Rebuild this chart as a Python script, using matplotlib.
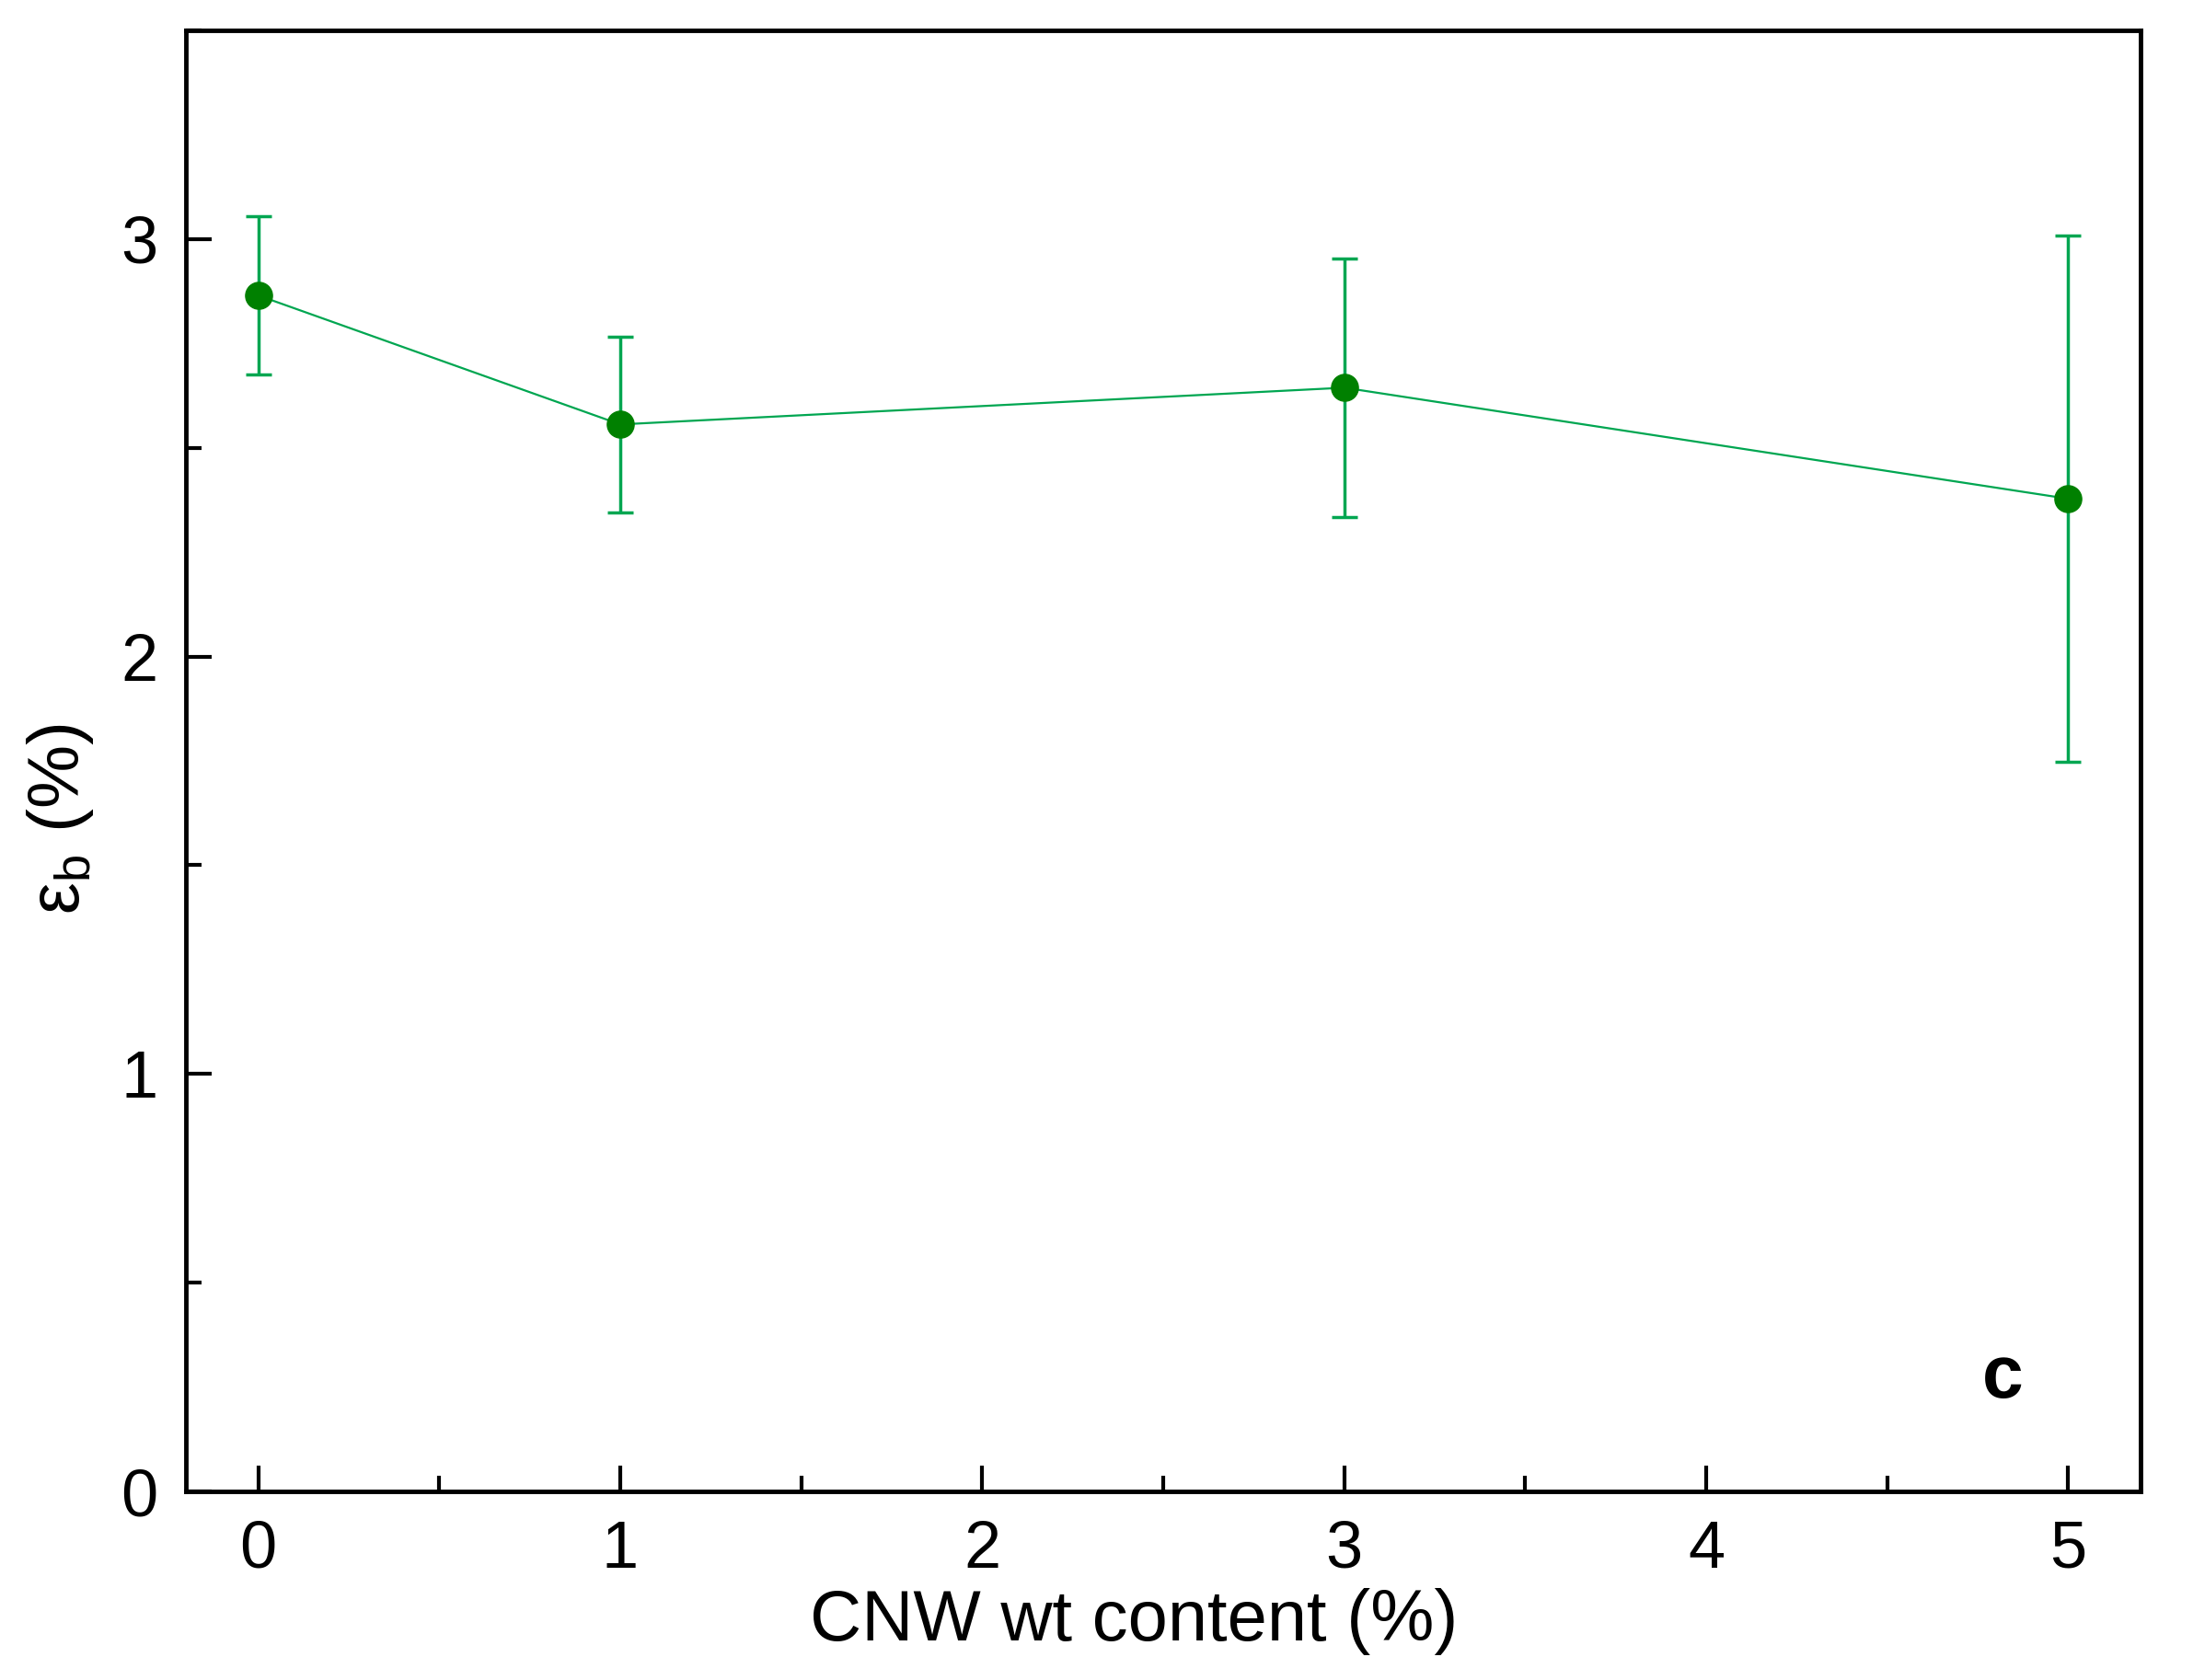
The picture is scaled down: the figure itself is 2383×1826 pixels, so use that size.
import matplotlib
matplotlib.use("Agg")
import matplotlib.pyplot as plt
from matplotlib.ticker import MultipleLocator

cnw = [0, 1, 3, 5]
eps_b = [2.865, 2.556, 2.644, 2.378]
eps_err = [0.19, 0.21, 0.31, 0.63]
xticks = [0, 1, 2, 3, 4, 5]
yticks = [0, 1, 2, 3]

plt.rcParams['font.family'] = ['Liberation Sans', 'DejaVu Sans']
DPI = 100
fig = plt.figure(figsize=(2383 / DPI, 1826 / DPI), dpi=DPI)
W, H = 2383, 1826
ax = fig.add_axes([202 / W, 1 - 1621 / H, (2326 - 202) / W, (1621 - 33) / H])

ax.errorbar(cnw, eps_b, yerr=eps_err, fmt='none', ecolor='#00A651',
            elinewidth=2.5, capsize=10, capthick=2.5, zorder=2)
ax.plot(cnw, eps_b, '-', color='#00A651', lw=1.6, zorder=3)
ax.plot(cnw, eps_b, 'o', color='#008000', ms=21, zorder=4)

ax.set_xlim(-0.2, 5.2)
ax.set_ylim(0, 3.5)
ax.set_xticks(xticks)
ax.set_yticks(yticks)
ax.xaxis.set_minor_locator(MultipleLocator(0.5))
ax.yaxis.set_minor_locator(MultipleLocator(0.5))
ax.tick_params(which='both', direction='in', top=False, right=False,
               width=3, labelsize=52, color='black')
ax.tick_params(which='major', length=20, pad=22)
ax.tick_params(which='minor', length=12)
for s in ax.spines.values():
    s.set_linewidth(3.5)

ax.set_xlabel('CNW wt content (%)', fontsize=56)
ax.xaxis.set_label_coords(0.485, -0.066)
ax.set_ylabel(r'$\mathregular{\varepsilon_{b}}$ (%)', fontsize=56)
ax.yaxis.set_label_coords(-0.046, 0.46)
ax.text(4.82, 0.27, 'c', fontsize=58, fontweight='bold', ha='center', va='center')

fig.savefig('out.png', dpi=DPI)
